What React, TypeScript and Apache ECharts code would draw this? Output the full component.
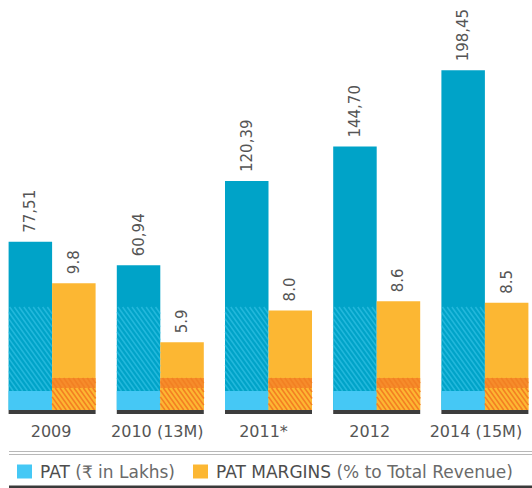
import React, { useEffect, useRef } from 'react';
import * as echarts from 'echarts';

const categories = ['2009', '2010 (13M)', '2011*', '2012', '2014 (15M)'];
const patValues = [77.51, 60.94, 120.39, 144.7, 198.45];
const marginValues = [9.8, 5.9, 8.0, 8.6, 8.5];
const seriesNames = ['PAT', 'PAT MARGINS'];
const seriesNotes = ['(₹ in Lakhs)', '(% to Total Revenue)'];

const PAT_MIN = -41.2;
const PAT_MAX = 248.1;
const MARGIN_MIN = 1.43;
const MARGIN_MAX = 28.48;
const BAR_W = 43.5;
const FONT = "'DejaVu Sans', 'Noto Sans', sans-serif";

const BLUE = '#00a3c8';
const LIGHT_BLUE = '#45c8f5';
const ORANGE = '#fcb733';
const DARK_ORANGE = '#f68c2b';

function hatchLines(x0: number, y0: number, w: number, h: number, step: number, slope: number, color: string, lw: number) {
  const out: any[] = [];
  for (let c = x0 - h / slope; c < x0 + w; c += step) {
    const ys = Math.max(y0, y0 + (x0 - c) * slope);
    const ye = Math.min(y0 + h, y0 + (x0 + w - c) * slope);
    if (ye - ys < 0.5) continue;
    out.push({
      type: 'line',
      silent: true,
      shape: { x1: c + (ys - y0) / slope, y1: ys, x2: c + (ye - y0) / slope, y2: ye },
      style: { stroke: color, lineWidth: lw },
    });
  }
  return out;
}

export default function App() {
  const ref = useRef<HTMLDivElement>(null);
  useEffect(() => {
    if (!ref.current) return;
    const chart = echarts.init(ref.current, undefined, { renderer: 'svg' });
    const option: any = {
      animation: false,
      backgroundColor: '#ffffff',
      grid: [
        { left: -2, width: 541, top: 0, bottom: 78, outerBoundsMode: 'none', containLabel: false },
        { left: -2, width: 531, top: 0, bottom: 78, outerBoundsMode: 'none', containLabel: false },
      ],
      xAxis: [
        {
          type: 'category', gridIndex: 0, data: categories,
          axisLine: { show: false }, axisTick: { show: false }, axisLabel: { show: false },
        },
        {
          type: 'category', gridIndex: 1, data: categories,
          axisLine: { show: false }, axisTick: { show: false },
          axisLabel: { interval: 0, fontSize: 16, color: '#555', fontFamily: FONT, margin: 13 },
        },
      ],
      yAxis: [
        { type: 'value', gridIndex: 0, min: PAT_MIN, max: PAT_MAX, startValue: PAT_MIN, show: false, splitLine: { show: false } },
        { type: 'value', gridIndex: 0, min: MARGIN_MIN, max: MARGIN_MAX, startValue: MARGIN_MIN, show: false, splitLine: { show: false } },
        { type: 'value', gridIndex: 1, show: false, splitLine: { show: false } },
      ],
      legend: {
        left: 17,
        top: 463,
        padding: 0,
        itemWidth: 15,
        itemHeight: 14,
        itemGap: 18,
        icon: 'rect',
        data: [
          { name: seriesNames[0], itemStyle: { color: LIGHT_BLUE } },
          { name: seriesNames[1], itemStyle: { color: ORANGE } },
        ],
        formatter: (name: string) => {
          const i = seriesNames.indexOf(name);
          return '{a|' + name + '} {b|' + seriesNotes[i] + '}';
        },
        textStyle: {
          fontFamily: FONT,
          fontSize: 17,
          color: '#555',
          rich: {
            a: { fontFamily: FONT, fontSize: 17, color: '#4d4d4d', padding: [0, 0, 0, 3] },
            b: { fontFamily: FONT, fontSize: 17, color: '#6a6a6a' },
          },
        },
      },
      graphic: [
        { type: 'line', silent: true, shape: { x1: 9, y1: 451.5, x2: 532, y2: 451.5 }, style: { stroke: '#b8b8b8', lineWidth: 1 } },
        { type: 'line', silent: true, shape: { x1: 9, y1: 454.5, x2: 532, y2: 454.5 }, style: { stroke: '#b8b8b8', lineWidth: 1 } },
        { type: 'line', silent: true, shape: { x1: 9, y1: 487, x2: 532, y2: 487 }, style: { stroke: '#3a3a3a', lineWidth: 3 } },
      ],
      series: [
        {
          name: seriesNames[0], type: 'bar', xAxisIndex: 0, yAxisIndex: 0,
          data: patValues, barWidth: BAR_W, barGap: '0%', z: 2,
          itemStyle: { color: BLUE },
          label: {
            show: true, position: 'top', rotate: 90, align: 'left', verticalAlign: 'middle',
            distance: 9, fontSize: 15, color: '#555', fontFamily: FONT,
            formatter: (p: any) => Number(p.value).toFixed(2).replace('.', ','),
          },
        },
        {
          name: seriesNames[1], type: 'bar', xAxisIndex: 0, yAxisIndex: 1,
          data: marginValues, barWidth: BAR_W, barGap: '0%', z: 2,
          itemStyle: { color: ORANGE },
          label: {
            show: true, position: 'top', rotate: 90, align: 'left', verticalAlign: 'middle',
            distance: 9, fontSize: 15, color: '#555', fontFamily: FONT,
            formatter: (p: any) => Number(p.value).toFixed(1),
          },
        },
        {
          type: 'custom', xAxisIndex: 0, yAxisIndex: 0, z: 5, silent: true, clip: false,
          data: categories.map((_, i) => [i, PAT_MIN]),
          encode: { x: 0, y: 1 },
          renderItem: (params: any, api: any) => {
            const i = api.value(0);
            const pt = api.coord([i, PAT_MIN]);
            const cx = pt[0];
            const base = pt[1];
            const bx = cx - BAR_W;
            const ox = cx;
            const children: any[] = [];
            children.push(...hatchLines(bx, base - 103, BAR_W, 84, 4.7, 1.4, 'rgba(70,205,240,0.5)', 1.6));
            children.push({ type: 'rect', shape: { x: bx, y: base - 19, width: BAR_W, height: 19 }, style: { fill: LIGHT_BLUE } });
            children.push({ type: 'rect', shape: { x: ox, y: base - 32, width: BAR_W, height: 10 }, style: { fill: DARK_ORANGE } });
            children.push(...hatchLines(ox, base - 32, BAR_W, 10, 4.7, 1.4, 'rgba(240,120,30,0.6)', 1.6));
            children.push({ type: 'rect', shape: { x: ox, y: base - 22, width: BAR_W, height: 22 }, style: { fill: ORANGE } });
            children.push(...hatchLines(ox, base - 22, BAR_W, 22, 4.7, 1.4, '#f47f22', 1.6));
            children.push({ type: 'rect', shape: { x: bx, y: base, width: 2 * BAR_W, height: 4 }, style: { fill: '#3d3d3d' } });
            return { type: 'group', children };
          },
        },
      ],
    };
    chart.setOption(option);
    return () => chart.dispose();
  }, []);
  return (
    <div
      ref={ref}
      style={{ position: 'fixed', left: 0, top: 0, width: 532, height: 488, background: '#fff' }}
    />
  );
}
